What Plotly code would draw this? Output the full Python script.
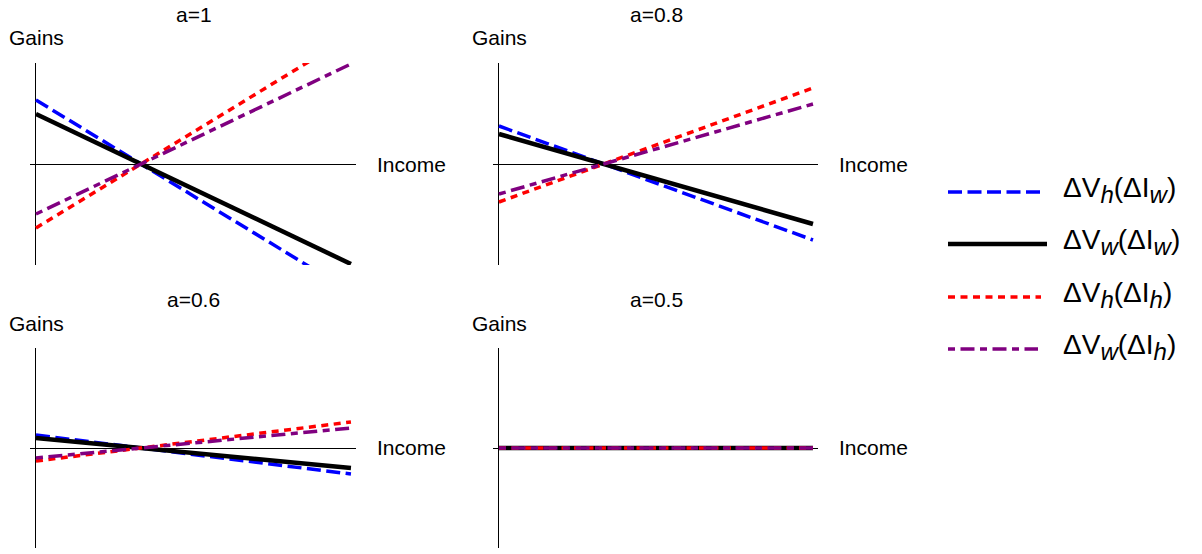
import plotly.graph_objects as go

# ---- data -------------------------------------------------------------
panel_titles = ["a=1", "a=0.8", "a=0.6", "a=0.5"]
income = [0, 3]  # income axis span of each drawn line

# gains at the two ends of the income span, one list per panel
dVh_dIw = [[1.28, -2.56], [0.76, -1.52], [0.26, -0.52], [0.0, 0.0]]
dVw_dIw = [[1.0, -2.0], [0.6, -1.2], [0.2, -0.4], [0.0, 0.0]]
dVh_dIh = [[-1.28, 2.56], [-0.76, 1.52], [-0.26, 0.52], [0.0, 0.0]]
dVw_dIh = [[-1.0, 2.0], [-0.6, 1.2], [-0.2, 0.4], [0.0, 0.0]]

SUB = '<sub><span style="font-size:24px"><i>{}</i></span></sub>'
series_names = [
    "ΔV" + SUB.format("h") + "(ΔI" + SUB.format("w") + ")",
    "ΔV" + SUB.format("w") + "(ΔI" + SUB.format("w") + ")",
    "ΔV" + SUB.format("h") + "(ΔI" + SUB.format("h") + ")",
    "ΔV" + SUB.format("w") + "(ΔI" + SUB.format("h") + ")",
]

# ---- styling ----------------------------------------------------------
W, H = 1202, 554
FONT = "Liberation Sans, Arial, sans-serif"
styles = [
    dict(color="#0000ff", width=3.5, dash="14px,5.5px"),
    dict(color="#000000", width=4.5, dash="solid"),
    dict(color="#ff0000", width=3.5, dash="7px,5.5px"),
    dict(color="#800080", width=3.5, dash="7px,5.5px,14px,5.5px"),
]
series = [dVh_dIw, dVw_dIw, dVh_dIh, dVw_dIh]

# panel boxes in pixels: left, top, right, bottom
boxes = [(30, 63, 356, 265), (493, 63, 818, 265), (30, 348, 356, 548), (493, 348, 818, 548)]
x_range = [-0.057, 3.048]
y_ranges = [[-2.02, 2.02], [-2.02, 2.02], [-2.0, 2.0], [-2.0, 2.0]]


def px(x):
    return x / W


def py(y):
    return 1 - y / H


fig = go.Figure()
annotations = []
for p, (l, t, r, b) in enumerate(boxes):
    sfx = "" if p == 0 else str(p + 1)
    for s, data in enumerate(series):
        fig.add_trace(go.Scatter(
            x=income, y=data[p], mode="lines", line=styles[s],
            xaxis="x" + sfx, yaxis="y" + sfx, showlegend=False, hoverinfo="skip",
        ))
    ax = dict(domain=[px(l), px(r)], range=x_range, showgrid=False, showticklabels=False,
              ticks="", zeroline=True, zerolinecolor="black", zerolinewidth=1,
              showline=False, fixedrange=True)
    ay = dict(domain=[py(b), py(t)], range=y_ranges[p], showgrid=False, showticklabels=False,
              ticks="", zeroline=True, zerolinecolor="black", zerolinewidth=1,
              showline=False, fixedrange=True)
    ax["anchor"] = "y" + sfx
    ay["anchor"] = "x" + sfx
    fig.layout["xaxis" + sfx] = ax
    fig.layout["yaxis" + sfx] = ay

    x0 = l + 6
    ymid = (t + b) / 2
    annotations += [
        dict(text=panel_titles[p], x=px((x0 + r - 5) / 2), y=py(t - 49),
             xanchor="center", yanchor="middle", font=dict(size=21)),
        dict(text="Gains", x=px(x0), y=py(t - 25),
             xanchor="center", yanchor="middle", font=dict(size=21)),
        dict(text="Income", x=px(r + 19), y=py(ymid),
             xanchor="left", yanchor="middle", font=dict(size=21)),
    ]

# legend drawn at the right
legend_rows = [192, 244, 297, 349]
legend_ends = [1041, 1047, 1041, 1038]
shapes = []
for s, yy in enumerate(legend_rows):
    shapes.append(dict(type="line", xref="paper", yref="paper",
                       x0=px(948), x1=px(legend_ends[s]), y0=py(yy), y1=py(yy),
                       line=styles[s]))
    annotations.append(dict(text=series_names[s], x=px(1061), y=py(yy - 2),
                            xanchor="left", yanchor="middle", font=dict(size=28)))

for a in annotations:
    a.update(xref="paper", yref="paper", showarrow=False)

fig.update_layout(
    width=W, height=H, margin=dict(l=0, r=0, t=0, b=0),
    paper_bgcolor="white", plot_bgcolor="white",
    font=dict(family=FONT, color="black"),
    annotations=annotations, shapes=shapes, showlegend=False,
)

fig.write_html("out.html", config={"displayModeBar": False})
